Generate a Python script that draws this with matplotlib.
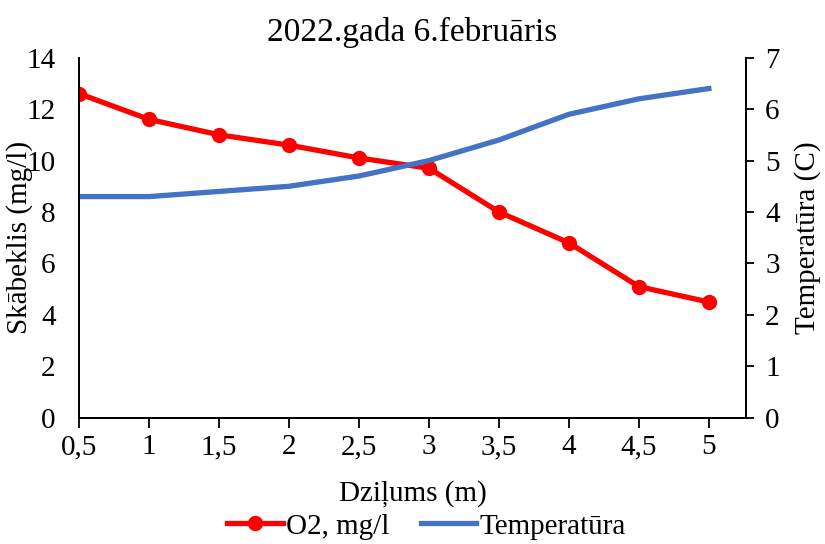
import matplotlib
matplotlib.use("Agg")
import matplotlib.pyplot as plt

# Dati: dziļums, skābeklis un temperatūra
dzilums = [0.5, 1, 1.5, 2, 2.5, 3, 3.5, 4, 4.5, 5]
dzilums_labels = ["0,5", "1", "1,5", "2", "2,5", "3", "3,5", "4", "4,5", "5"]
o2 = [12.6, 11.6, 11.0, 10.6, 10.1, 9.7, 8.0, 6.8, 5.1, 4.5]
temperatura = [4.3, 4.3, 4.4, 4.5, 4.7, 5.0, 5.4, 5.9, 6.2, 6.4]

plt.rcParams.update({
    "font.family": "Liberation Serif",
    "font.size": 21,
})

fig = plt.figure(figsize=(8.25, 5.44), dpi=100)
ax = fig.add_axes([0.096, 0.232, 0.808, 0.662])
ax2 = ax.twinx()

l1, = ax.plot(dzilums, o2, color="#FF0000", linewidth=3.8, marker="o",
              markersize=10, label="O2, mg/l", zorder=3)
l2, = ax2.plot(dzilums, temperatura, color="#4472C4", linewidth=3.8,
               label="Temperatūra")

ax.set_xlim(0.5, 5.264)
ax.set_ylim(0, 14)
ax2.set_ylim(0, 7)
ax.set_xticks(dzilums)
ax.set_xticklabels(dzilums_labels)
ax.set_yticks(range(0, 15, 2))
ax2.set_yticks(range(0, 8))

for a in (ax, ax2):
    for s in a.spines.values():
        s.set_linewidth(1.3)
    a.spines["top"].set_visible(False)
ax.tick_params(axis="x", direction="out", length=7, width=1.3, pad=5)
ax.tick_params(axis="y", length=0, pad=17)
ax2.tick_params(axis="y", direction="out", length=6, width=1.3, pad=8)

ax.set_xlabel("Dziļums (m)", fontsize=21, labelpad=14)
ax.set_ylabel("Skābeklis (mg/l)", fontsize=21, labelpad=-5)
ax2.set_ylabel("Temperatūra (C)", fontsize=21, labelpad=10)
ax.set_title("2022.gada 6.februāris", fontsize=24, pad=12)

fig.legend(handles=[l1, l2], loc="lower center", ncol=2, frameon=False,
           bbox_to_anchor=(0.517, -0.04), handlelength=1.9, columnspacing=1.1,
           handletextpad=0.1)

fig.savefig("out.png", dpi=100)
